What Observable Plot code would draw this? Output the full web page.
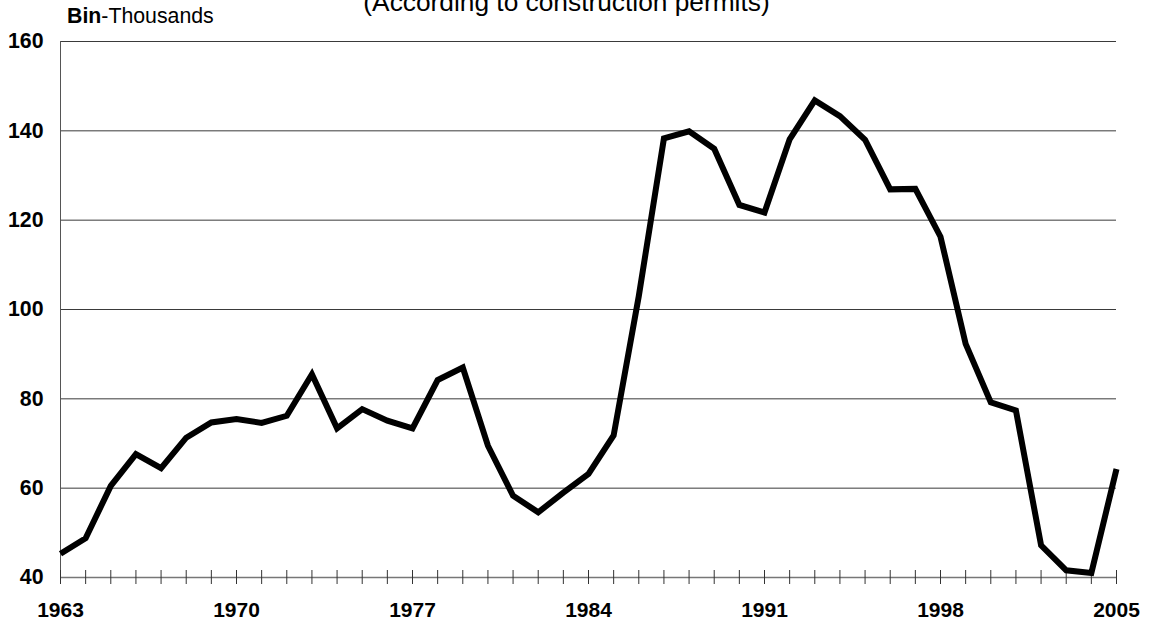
<!DOCTYPE html>
<html>
<head>
<meta charset="utf-8">
<script src="https://cdn.jsdelivr.net/npm/d3@7"></script>
<script src="https://cdn.jsdelivr.net/npm/@observablehq/plot@0.6"></script>
<style>
  html, body { margin: 0; padding: 0; background: #fff; }
  #chart svg { display: block; overflow: visible; }
</style>
</head>
<body>
<div id="chart"></div>
<script>
const titleText = "(According to construction permits)";
const unitBold = "Bin";
const unitRest = "-Thousands";

const years = d3.range(1963, 2006);
const values = [
  45.3, 48.8, 60.5, 67.6, 64.5, 71.3, 74.7, 75.5, 74.6, 76.2,
  85.5, 73.4, 77.7, 75.1, 73.4, 84.2, 87.0, 69.5, 58.3, 54.6,
  59.0, 63.2, 71.8, 103.0, 138.3, 139.9, 136.0, 123.4, 121.7, 138.1,
  146.8, 143.3, 138.0, 126.9, 127.0, 116.3, 92.3, 79.2, 77.4, 47.2,
  41.6, 41.0, 64.3
];
const xTickLabels = [1963, 1970, 1977, 1984, 1991, 1998, 2005];
const yTicks = [40, 60, 80, 100, 120, 140, 160];

const data = years.map((year, i) => ({year, value: values[i]}));

const font = "'Liberation Sans', Arial, Helvetica, sans-serif";

const chart = Plot.plot({
  width: 1152,
  height: 625,
  marginLeft: 60,
  marginRight: 36,
  marginTop: 41,
  marginBottom: 48,
  style: {fontFamily: font, background: "#fff", overflow: "visible"},
  x: {domain: [1963, 2005]},
  y: {domain: [40, 160]},
  marks: [
    Plot.ruleY(yTicks.filter(d => d > 40), {y: d => d, stroke: "#3a3a3a", strokeWidth: 1}),
    Plot.ruleX([1963], {x: d => d, stroke: "#555", strokeWidth: 1}),
    Plot.ruleY([40], {y: d => d, stroke: "#777", strokeWidth: 1.5}),
    Plot.ruleX(years, {x: d => d, y1: 40, y2: 40, insetTop: -7, insetBottom: -7, stroke: "#333", strokeWidth: 1}),
    Plot.axisY({ticks: yTicks, tickSize: 0, tickPadding: 17, fontSize: 21.3, fontWeight: "bold", fill: "#000", label: null, tickFormat: d => String(d)}),
    Plot.axisX({ticks: xTickLabels, tickSize: 0, tickPadding: 24.7, fontSize: 21, fontWeight: "bold", fill: "#000", label: null, tickFormat: d => String(d)}),
    Plot.line(data, {x: "year", y: "value", stroke: "#000", strokeWidth: 6, strokeLinejoin: "miter", strokeLinecap: "butt", strokeMiterlimit: 10}),
    Plot.text([titleText], {text: d => d, frameAnchor: "top", dx: -22, dy: -30.5, lineAnchor: "bottom", fontSize: 26.3, fill: "#000", textAnchor: "middle"}),
    Plot.text([unitBold], {text: d => d, frameAnchor: "top-left", dx: 6.5, dy: -18.3, lineAnchor: "bottom", fontSize: 21.3, fontWeight: "bold", fill: "#000", textAnchor: "start"}),
    Plot.text([unitRest], {text: d => d, frameAnchor: "top-left", dx: 40.8, dy: -18.3, lineAnchor: "bottom", fontSize: 21.3, fill: "#000", textAnchor: "start"})
  ]
});

document.getElementById("chart").appendChild(chart);
</script>
</body>
</html>
